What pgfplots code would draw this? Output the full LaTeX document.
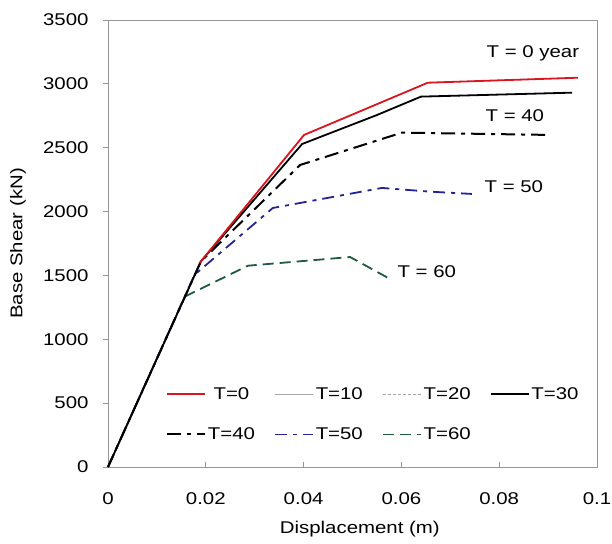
\documentclass[border=0pt]{standalone}
\usepackage{pgfplots}
\pgfplotsset{compat=1.18}
\usepackage{fontspec}
\setmainfont[FakeStretch=1.2]{Liberation Sans}
\definecolor{tblue}{RGB}{35,35,150}
\definecolor{tgreen}{RGB}{30,90,60}
\definecolor{tred}{RGB}{220,20,30}
\definecolor{frame}{RGB}{150,150,150}
\newcommand{\fs}{\fontsize{17}{20}\selectfont}
\begin{document}
\begin{tikzpicture}
\begin{axis}[
  name=ax,
  scale only axis,
  width=489pt, height=447pt,
  xmin=0, xmax=0.1, ymin=0, ymax=3500,
  xtick={0,0.02,0.04,0.06,0.08,0.1},
  xticklabels={0,0.02,0.04,0.06,0.08,0.1},
  ytick={0,500,1000,1500,2000,2500,3000,3500},
  yticklabels={0,500,1000,1500,2000,2500,3000,3500},
  axis line style={frame, line width=0.8pt},
  tick style={frame, line width=0.8pt},
  major tick length=5pt,
  xtick align=inside,
  ytick align=outside,
  xtick pos=bottom, ytick pos=left,
  ticklabel style={font=\fs, text=black},
  xticklabel style={yshift=-22pt},
  yticklabel style={xshift=-11pt},
  xlabel={Displacement (m)},
  ylabel={Base Shear (kN)},
  every axis x label/.style={at={(axis description cs:0.515,-0.14)}, anchor=center, font=\fs},
  every axis y label/.style={at={(axis description cs:-0.184,0.5)}, rotate=90, anchor=center, font=\fs},
  legend columns=4,
  legend style={draw=none, fill=none, font=\fs, at={(axis description cs:0.118,0.183)}, anchor=north west, inner sep=0pt, row sep=23pt,
    /tikz/every even column/.append style={column sep=17pt}},
  legend image code/.code={\draw[#1] (0pt,0pt) -- (38pt,0pt);},
  clip=false,
]
% legend
\addlegendimage{tred, line width=1.8pt}
\addlegendentry{T=0}
\addlegendimage{gray!70, line width=0.8pt}
\addlegendentry{T=10}
\addlegendimage{gray!70, line width=0.8pt, dash pattern=on 3pt off 2pt}
\addlegendentry{T=20}
\addlegendimage{black, line width=1.8pt}
\addlegendentry{T=30}
\addlegendimage{black, line width=2pt, dash pattern=on 14pt off 6pt on 4pt off 6pt}
\addlegendentry{T=40}
\addlegendimage{tblue, line width=1.8pt, dash pattern=on 12pt off 6pt on 4pt off 6pt}
\addlegendentry{T=50}
\addlegendimage{tgreen, line width=1.8pt, dash pattern=on 11pt off 6pt}
\addlegendentry{T=60}

% T=10 (coincides with T=0)
\addplot[forget plot, gray!70, line width=0.8pt] coordinates {(0,0) (0.019,1615) (0.0401,2600) (0.0654,3009) (0.0961,3048)};
% T=20 (coincides with T=30)
\addplot[forget plot, gray!70, line width=0.8pt, dash pattern=on 3pt off 2pt] coordinates {(0,0) (0.019,1610) (0.0397,2529) (0.0550,2756) (0.0640,2900) (0.0949,2931)};
% T=60
\addplot[forget plot, tgreen, line width=1.8pt, dash pattern=on 11pt off 6pt] coordinates {(0,0) (0.0157,1334) (0.0286,1576) (0.0495,1644) (0.0573,1480)};
% T=50
\addplot[forget plot, tblue, line width=1.8pt, dash pattern=on 12pt off 6pt on 4pt off 6pt] coordinates {(0,0) (0.0177,1505) (0.0337,2028) (0.0560,2185) (0.0658,2156) (0.0744,2138)};
% T=40
\addplot[forget plot, black, line width=2pt, dash pattern=on 14pt off 6pt on 4pt off 6pt] coordinates {(0,0) (0.019,1610) (0.0393,2365) (0.0601,2618) (0.0904,2600)};
% T=30
\addplot[forget plot, black, line width=1.8pt] coordinates {(0,0) (0.019,1610) (0.0397,2529) (0.0550,2756) (0.0640,2900) (0.0949,2931)};
% T=0
\addplot[forget plot, tred, line width=1.8pt] coordinates {(0.0188,1600) (0.0401,2600) (0.0654,3009) (0.0961,3048)};

\node[font=\fs] at (axis cs:0.0869,3242) {T = 0 year};
\node[font=\fs] at (axis cs:0.0832,2748) {T = 40};
\node[font=\fs] at (axis cs:0.0830,2192) {T = 50};
\node[font=\fs] at (axis cs:0.0652,1527) {T = 60};
\end{axis}
\pgfresetboundingbox
\path[use as bounding box] ([xshift=-108pt,yshift=-77pt]ax.south west) rectangle ([xshift=15pt,yshift=20pt]ax.north east);
\end{tikzpicture}
\end{document}
